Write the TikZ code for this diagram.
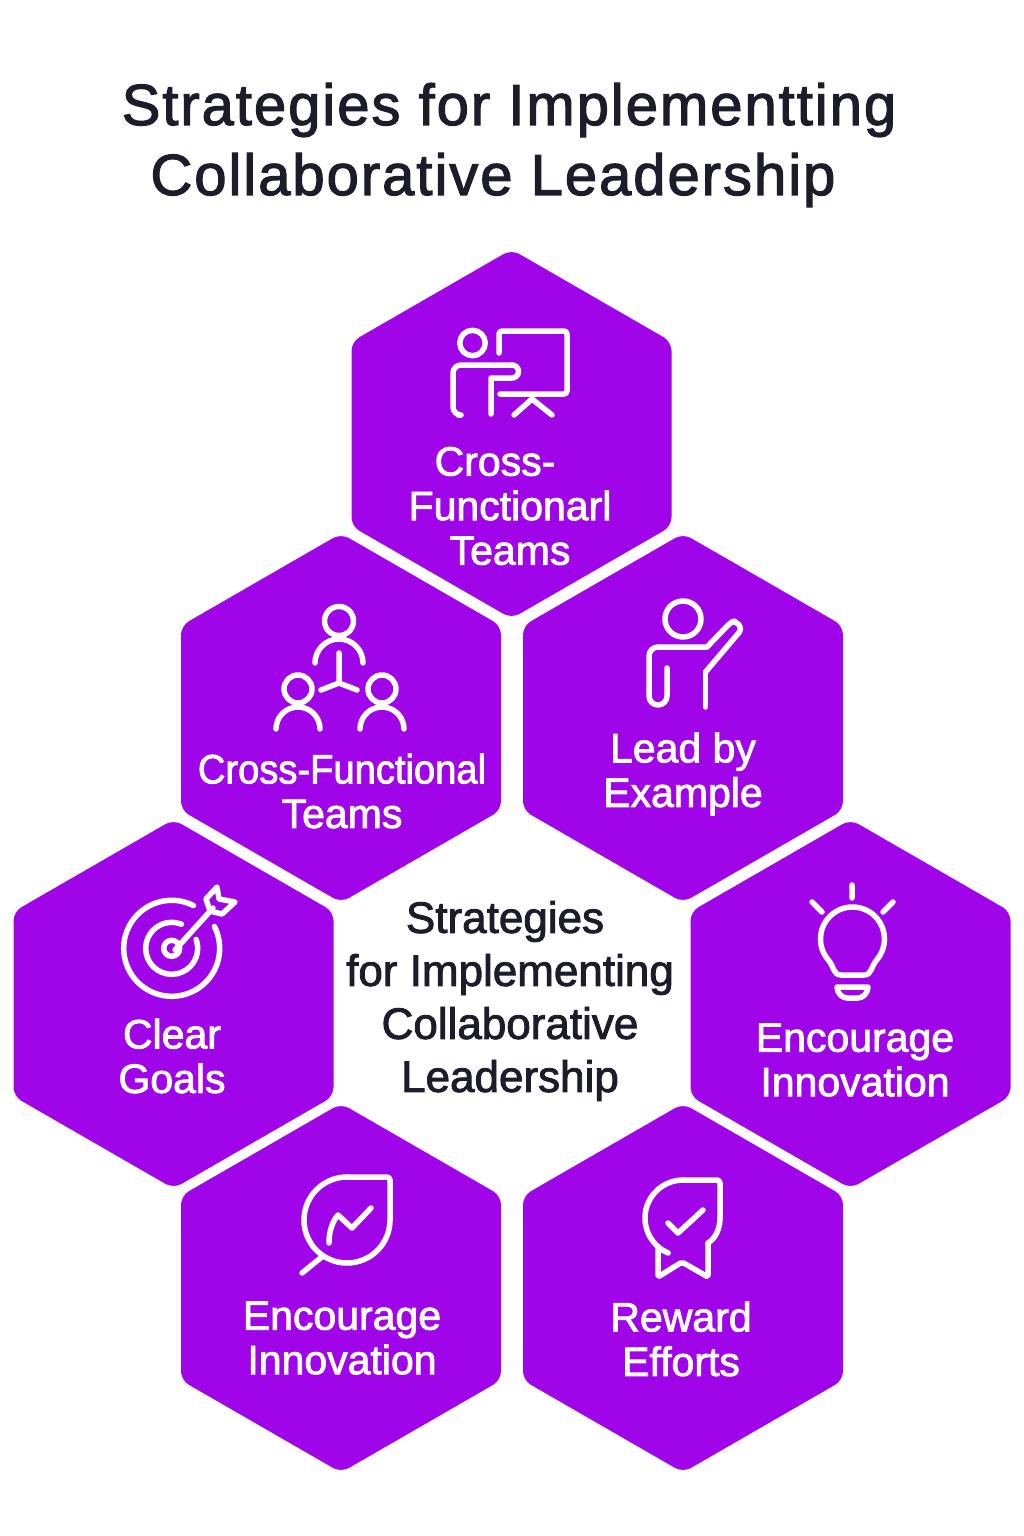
\documentclass[tikz,border=0pt]{standalone}
\usepackage{graphicx}
\usepackage{fontspec}
\setmainfont{Liberation Sans}
\newfontfamily\lblfont{Liberation Sans}[FakeBold=2]
\newfontfamily\ttlfont{Liberation Sans}[FakeBold=2,LetterSpace=3.4]
\definecolor{hexpurple}{HTML}{A005EA}
\definecolor{ink}{HTML}{1C1C2B}
\tikzset{
  hexcell/.style={fill=hexpurple,rounded corners=9pt},
  iconline/.style={draw=white,line width=5.5pt,line cap=round,line join=round},
  hexlabel/.style={text=white,align=center,inner sep=0pt,font=\lblfont\fontsize{41}{44.5}\selectfont},
  midlabel/.style={text=ink,align=center,inner sep=0pt,font=\lblfont\fontsize{44}{53}\selectfont},
  titlelabel/.style={text=ink,align=center,inner sep=0pt,font=\ttlfont\fontsize{58}{70}\selectfont}
}
\newcommand{\hexat}[3]{\path[hexcell] (#2,#3) ++(0,-184.5) coordinate (#1) -- ++(160,92.25) -- ++(0,184.5) -- ++(-160,92.25) -- ++(-160,-92.25) -- ++(0,-184.5) -- cycle;}
\begin{document}
\begin{tikzpicture}[x=1pt,y=-1pt]
\useasboundingbox (0,0) rectangle (1024,1536);
\fill[white] (0,0) rectangle (1024,1536);
\node[titlelabel] (title) at (509,145) {Strategies for Implementting\\Collaborative Leadership\hspace*{32pt}};
\hexat{h1}{511.5}{434}
\hexat{h2}{341}{718}
\hexat{h3}{683}{718}
\hexat{h4}{173.5}{1004}
\hexat{h5}{850.5}{1004}
\hexat{h6}{341}{1288}
\hexat{h7}{683}{1288}
% presenter
\draw[iconline] (472.5,343) circle[radius=12.7];
\draw[iconline,rounded corners=3pt] (499,353) -- (499,331) -- (567,331) -- (567,394) -- (500,394);
\draw[iconline] (532,399) -- (514,415) (532,399) -- (552,415);
\draw[iconline,rounded corners=8pt] (458,415) -- (453,415) -- (453,365) -- (512,365);
\draw[iconline] (512,365) arc[start angle=-90,end angle=90,radius=6.5] -- (491,378) -- (491,414);
% team
\draw[iconline] (339,621) circle[radius=14.5];
\draw[iconline] (315,663) arc[start angle=180,end angle=360,radius=24];
\draw[iconline] (339,653) -- (339,683) (321,690) -- (339,683) -- (357,690);
\draw[iconline] (298,689) circle[radius=14];
\draw[iconline] (276,729) arc[start angle=180,end angle=360,radius=22];
\draw[iconline] (382,689) circle[radius=14];
\draw[iconline] (360,729) arc[start angle=180,end angle=360,radius=22];
% lead
\draw[iconline] (683,619) circle[radius=18];
\draw[iconline,rounded corners=9pt] (667,668) -- (667,705) -- (649,705) -- (649,647) -- (707,647);
\draw[iconline,rounded corners=4pt] (707,647) -- (731,622) -- (736,621) -- (742,629) -- (705.5,672);
\draw[iconline] (705.5,672) -- (705.5,707);
% target
\draw[iconline] (171.7,948.3) ++(-63:48) arc[start angle=-63,end angle=-387,radius=48];
\draw[iconline] (171.7,948.3) ++(-68:26) arc[start angle=-68,end angle=-380,radius=26];
\draw[iconline] (171.7,948.3) circle[radius=8];
\draw[iconline] (175,950) -- (213,908);
\draw[iconline] (206,899) -- (217,887) -- (219,899) -- (235,902) -- (222,914) -- (210,911) -- cycle;
% bulb
\draw[iconline] (852,885) -- (852,898) (812,902) -- (822,912) (893,902) -- (883,912);
\draw[iconline] (852.5,939) ++(140:32) coordinate (bl) arc[start angle=140,end angle=400,radius=32] .. controls (871,966) and (872,975) .. (864,975) -- (841,975) .. controls (833,975) and (834,966) .. (bl);
\draw[iconline] (837,987) -- (868,987) .. controls (868,994) and (862,998) .. (858,998) -- (847,998) .. controls (843,998) and (837,994) .. (837,987) -- cycle;
% leaf
\draw[iconline,rounded corners=3pt] (390,1220) -- (390,1177) -- (347,1177);
\draw[iconline] (347,1177) arc[start angle=-90,end angle=-360,radius=43];
\draw[iconline] (323,1256) -- (302,1273);
\draw[iconline] (329,1243) .. controls (329,1232) and (332,1222) .. (338,1215) -- (352,1228) -- (371,1208);
% ribbon
\draw[iconline] (683,1218) ++(113:38) arc[start angle=113,end angle=270,radius=38];
\draw[iconline,rounded corners=3pt] (683,1180) -- (720,1180) -- (720,1218);
\draw[iconline] (720,1218) .. controls (720,1228) and (716,1238) .. (708,1243);
\draw[iconline,rounded corners=2pt] (708,1243) -- (708,1277) -- (682,1262) -- (658,1277) -- (658,1248);
\draw[iconline] (668,1223) -- (678,1233) -- (703,1210);
% labels
\node[hexlabel] (t1) at (510,506) {Cross-\hspace*{30pt}\\Functionarl\\Teams};
\node[hexlabel] (t2) at (342,791) {\scalebox{.93}[1]{Cross-Functional}\\Teams};
\node[hexlabel] (t3) at (683,774) {Lead by\\Example};
\node[hexlabel] (t4) at (172,1056) {Clear\\Goals};
\node[hexlabel] (t5) at (855,1060) {Encourage\\Innovation};
\node[hexlabel] (t6) at (342,1338) {Encourage\\Innovation};
\node[hexlabel] (t7) at (681,1339) {Reward\\Efforts};
\node[midlabel] (center) at (510,1001) {Strategies\hspace*{10pt}\\for Implementing\\Collaborative\\Leadership};
\end{tikzpicture}
\end{document}
